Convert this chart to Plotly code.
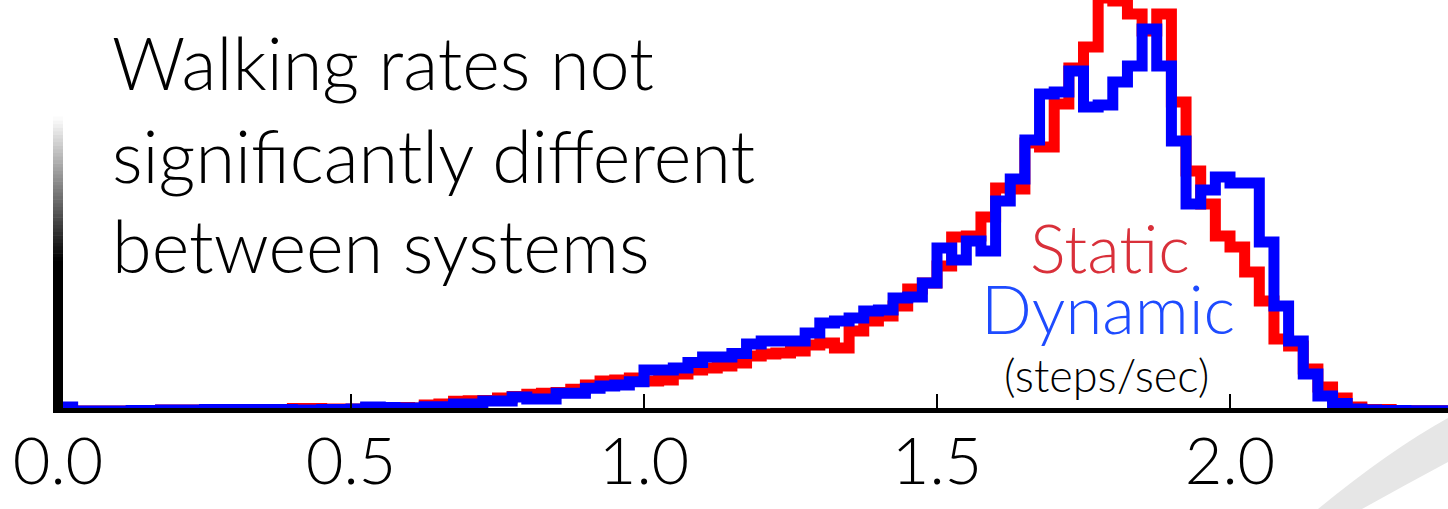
import plotly.graph_objects as go

# ---------------- data ----------------
bin_start = 0.0
bin_width = 0.025
n_bins = 96

static_counts = [
    0.5, 0, 0, 0, 0, 0.5, 0.5, 1, 1, 1,
    1.5, 1.5, 1.5, 1.5, 1.5, 1.5, 2.5, 2.5, 2, 2,
    2, 3, 3, 3.5, 3, 6, 7, 9.7, 10.3, 10.5,
    13, 14.5, 16.7, 17.7, 18.5, 21.7, 26, 30, 31, 33,
    30, 31, 37, 41, 43, 45, 48, 55, 57, 58,
    60, 66, 68, 63, 80, 90, 95, 105, 122, 128,
    145, 174, 175, 194, 223, 222, 268, 264, 307, 343,
    364, 413, 410, 397, 380, 397, 309, 240, 207, 175,
    164, 139, 110, 72, 65, 42, 24, 13, 4, 1.5,
    1.5, 0.5, 0.3, 0.3, 0.3, 0.3,
]

dynamic_counts = [
    4, 0, 0, 0, 0, 0.5, 0.5, 1, 1, 1,
    1.5, 1.5, 1.5, 1.5, 1.5, 1.5, 1, 1, 1.5, 1.5,
    2, 4, 3.5, 3, 3, 4.3, 4.3, 7, 7, 10,
    10, 14, 12, 12, 17.7, 17.7, 22.7, 25, 26, 29.3,
    41, 41, 43, 48.5, 54, 54, 57.5, 67, 70, 70,
    70, 78, 88, 90, 93, 100, 101, 113, 114, 128,
    163, 151, 170, 160, 210, 232, 271, 317, 319, 340,
    304, 306, 329, 345, 382, 345, 270, 207, 221, 234,
    228, 228, 169, 105, 70, 37, 15, 7.5, 2, 1,
    0.5, 0.5, 0.3, 0.3, 0.3, 0.3,
]

tick_values = [0.0, 0.5, 1.0, 1.5, 2.0]
tick_labels = ["0.0", "0.5", "1.0", "1.5", "2.0"]

title_lines = ["Walking rates not", "significantly different", "between systems"]
series_names = ["Static", "Dynamic"]
unit_label = "(steps/sec)"

# ---------------- geometry ----------------
W, H = 1448, 509
B = 96                      # bottom margin (axis line at pixel row 413)
PH = H - B                  # plot height in px
X0 = -58 / 586.0            # x range so that 0 sits at px 58, 1 unit = 586 px
X1 = (W - 58) / 586.0
Y0, Y1 = -2, PH - 2


def px(xp):
    return xp / W


def py(yp):
    return (PH - yp) / PH


edges = [bin_start + i * bin_width for i in range(n_bins + 1)]

RED = "#ff0000"
BLUE = "#0000ff"
FONT = "Lato"
WEIGHT = 300

fig = go.Figure()
fig.add_trace(go.Scatter(x=edges, y=static_counts + [static_counts[-1]],
                         mode="lines", line=dict(color=RED, width=11, shape="hv"),
                         name=series_names[0], hoverinfo="skip"))
fig.add_trace(go.Scatter(x=edges, y=dynamic_counts + [dynamic_counts[-1]],
                         mode="lines", line=dict(color=BLUE, width=11, shape="hv"),
                         name=series_names[1], hoverinfo="skip"))

shapes = []
# background swoosh bottom-right
shapes.append(dict(type="path", xref="paper", yref="paper", layer="below",
                   path=(f"M {px(1318)} {py(509)} Q {px(1390)} {py(450)} {px(1448)} {py(418)} "
                         f"L {px(1448)} {py(462)} Q {px(1405)} {py(485)} {px(1362)} {py(509)} Z"),
                   fillcolor="#e6e6e6", line=dict(width=0)))
# x axis line
shapes.append(dict(type="line", xref="x", yref="y", x0=-5 / 586.0, x1=X1 + 0.01,
                   y0=-2, y1=-2, line=dict(color="black", width=10), layer="above"))
# left axis: black lower part + fade to white
shapes.append(dict(type="line", xref="x", yref="y", x0=0, x1=0, y0=-7, y1=152,
                   line=dict(color="black", width=10), layer="above"))
n_fade = 40
top_v, bot_v = 294, 150
for i in range(n_fade):
    a = bot_v + (top_v - bot_v) * i / n_fade
    b = bot_v + (top_v - bot_v) * (i + 1) / n_fade
    g = int(255 * (i + 0.5) / n_fade)
    shapes.append(dict(type="line", xref="x", yref="y", x0=0, x1=0, y0=a, y1=b + 0.6,
                       line=dict(color=f"rgb({g},{g},{g})", width=10), layer="above"))

annotations = []
for txt, yc in zip(title_lines, [62, 155, 245]):
    annotations.append(dict(text=txt, xref="paper", yref="paper", x=px(110), y=py(yc),
                            xanchor="left", yanchor="middle", showarrow=False,
                            font=dict(family=FONT, size=72, color="black", weight=WEIGHT)))
annotations.append(dict(text=series_names[0], xref="paper", yref="paper", x=px(1110), y=py(247),
                        xanchor="center", yanchor="middle", showarrow=False,
                        font=dict(family=FONT, size=67, color="#d9303a", weight=WEIGHT)))
annotations.append(dict(text=series_names[1], xref="paper", yref="paper", x=px(1108), y=py(308),
                        xanchor="center", yanchor="middle", showarrow=False,
                        font=dict(family=FONT, size=67, color="#1e4bff", weight=WEIGHT)))
annotations.append(dict(text=unit_label, xref="paper", yref="paper", x=px(1106), y=py(375),
                        xanchor="center", yanchor="middle", showarrow=False,
                        font=dict(family=FONT, size=45, color="black", weight=WEIGHT)))

fig.update_layout(
    width=W, height=H, autosize=False,
    margin=dict(l=0, r=0, t=0, b=B, pad=0),
    paper_bgcolor="white", plot_bgcolor="white",
    showlegend=False, hovermode=False,
    shapes=shapes, annotations=annotations,
    xaxis=dict(range=[X0, X1], showgrid=False, zeroline=False, showline=False,
               ticks="inside", ticklen=19, tickwidth=2, tickcolor="black",
               tickvals=tick_values, ticktext=tick_labels,
               tickfont=dict(family=FONT, size=65, color="black", weight=WEIGHT),
               ticklabelstandoff=5),
    yaxis=dict(range=[Y0, Y1], visible=False, showgrid=False, zeroline=False),
)

fig.write_html("out.html", config={"displayModeBar": False, "staticPlot": True},
               post_script="document.body.style.margin='0';document.body.style.overflow='hidden';")
